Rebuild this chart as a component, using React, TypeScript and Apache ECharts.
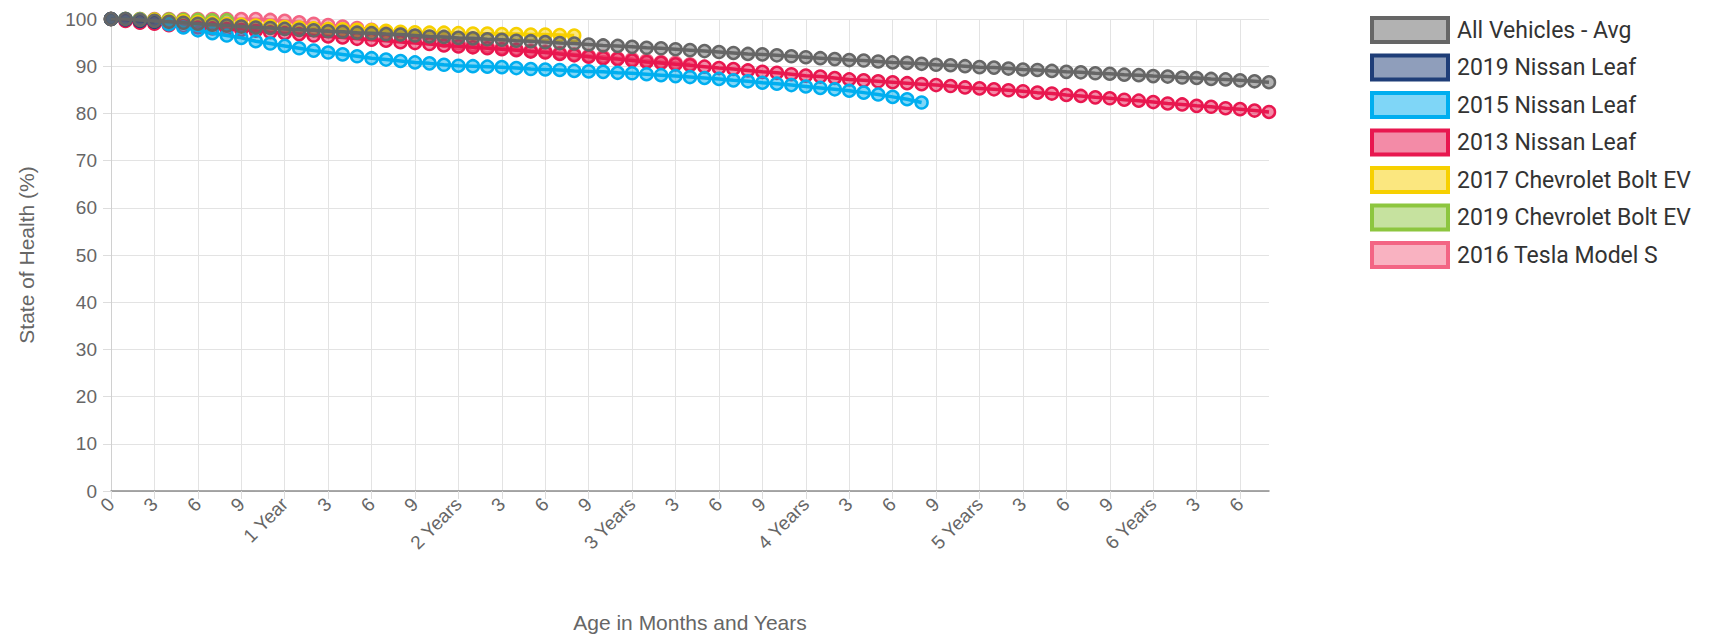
import React, { useEffect, useRef } from "react";
import * as echarts from "echarts";

const months: string[] = [
  "0", "1", "2", "3", "4", "5", "6", "7", "8", "9", "10", "11",
  "1 Year", "1", "2", "3", "4", "5", "6", "7", "8", "9", "10", "11",
  "2 Years", "1", "2", "3", "4", "5", "6", "7", "8", "9", "10", "11",
  "3 Years", "1", "2", "3", "4", "5", "6", "7", "8", "9", "10", "11",
  "4 Years", "1", "2", "3", "4", "5", "6", "7", "8", "9", "10", "11",
  "5 Years", "1", "2", "3", "4", "5", "6", "7", "8", "9", "10", "11",
  "6 Years", "1", "2", "3", "4", "5", "6", "7", "8",
];

const yTicks = [0, 10, 20, 30, 40, 50, 60, 70, 80, 90, 100];

const seriesNames = [
  "All Vehicles - Avg",
  "2019 Nissan Leaf",
  "2015 Nissan Leaf",
  "2013 Nissan Leaf",
  "2017 Chevrolet Bolt EV",
  "2019 Chevrolet Bolt EV",
  "2016 Tesla Model S",
];

const allVehiclesAvg = [
  100.0, 100.0, 99.8, 99.6, 99.4, 99.2, 99.0, 98.8, 98.6, 98.4, 98.2, 98.1,
  97.9, 97.7, 97.6, 97.4, 97.3, 97.1, 97.0, 96.8, 96.7, 96.5, 96.3, 96.2,
  96.0, 95.9, 95.7, 95.6, 95.4, 95.3, 95.1, 94.9, 94.8, 94.6, 94.4, 94.3,
  94.1, 93.9, 93.8, 93.6, 93.4, 93.2, 93.0, 92.8, 92.6, 92.5, 92.3, 92.1,
  91.9, 91.7, 91.5, 91.3, 91.2, 91.0, 90.8, 90.7, 90.5, 90.3, 90.2, 90.0,
  89.8, 89.7, 89.5, 89.3, 89.2, 89.0, 88.8, 88.7, 88.5, 88.4, 88.2, 88.1,
  87.9, 87.8, 87.6, 87.5, 87.3, 87.2, 87.0, 86.8, 86.6,
];

const leaf2019 = [100.0, 99.9, 99.6, 99.4];

const leaf2015 = [
  100.0, 100.0, 99.8, 99.5, 98.9, 98.2, 97.6, 97.0, 96.5, 96.0, 95.3, 94.8,
  94.3, 93.8, 93.3, 92.9, 92.5, 92.1, 91.7, 91.4, 91.1, 90.8, 90.6, 90.3,
  90.1, 90.0, 89.9, 89.8, 89.6, 89.4, 89.3, 89.2, 89.0, 88.9, 88.8, 88.6,
  88.5, 88.3, 88.1, 87.9, 87.7, 87.5, 87.3, 87.0, 86.8, 86.5, 86.3, 86.0,
  85.7, 85.4, 85.1, 84.8, 84.4, 84.0, 83.5, 83.0, 82.3,
];

const leaf2013 = [
  100.0, 99.6, 99.2, 99.0, 98.7, 98.5, 98.2, 98.0, 97.9, 97.7, 97.5, 97.2,
  97.0, 96.8, 96.5, 96.3, 96.1, 95.8, 95.6, 95.4, 95.1, 94.9, 94.7, 94.4,
  94.2, 94.0, 93.8, 93.6, 93.4, 93.1, 92.9, 92.6, 92.3, 92.0, 91.7, 91.5,
  91.2, 90.9, 90.7, 90.4, 90.2, 89.9, 89.6, 89.4, 89.1, 88.8, 88.6, 88.3,
  88.0, 87.8, 87.5, 87.2, 87.0, 86.8, 86.6, 86.4, 86.2, 86.0, 85.8, 85.5,
  85.3, 85.1, 84.9, 84.7, 84.4, 84.2, 83.9, 83.7, 83.4, 83.2, 82.9, 82.7,
  82.4, 82.1, 81.9, 81.6, 81.4, 81.1, 80.9, 80.6, 80.3,
];

const bolt2017 = [
  100.0, 100.0, 99.9, 99.8, 99.6, 99.5, 99.3, 99.1, 98.9, 98.8, 98.6, 98.5,
  98.3, 98.2, 98.0, 97.9, 97.8, 97.7, 97.6, 97.5, 97.3, 97.2, 97.1, 97.1,
  97.0, 96.9, 96.9, 96.8, 96.8, 96.7, 96.7, 96.6, 96.5,
];

const bolt2019 = [100.0, 100.0, 100.0, 99.9, 99.9, 99.8, 99.8, 99.7, 99.7];

const teslaS2016 = [
  100.0, 100.0, 100.0, 100.0, 100.0, 100.0, 100.0, 100.0, 100.0, 100.0, 100.0, 99.8,
  99.6, 99.3, 99.0, 98.7, 98.4, 98.1, 97.7, 97.3, 96.9, 96.4, 95.9, 95.4,
  94.8, 94.5, 94.2, 93.9, 93.6, 93.3, 93.1, 92.8, 92.5, 92.2, 92.0, 91.7,
  91.5, 91.2, 90.9, 90.7, 90.4,
];

const seriesData = [allVehiclesAvg, leaf2019, leaf2015, leaf2013, bolt2017, bolt2019, teslaS2016];

const strokeColors = ["#666666", "#1f3e78", "#00aeef", "#e8174f", "#f7d000", "#8dc63f", "#f36584"];
const fillColors = [
  "rgba(102,102,102,0.5)",
  "rgba(31,62,120,0.5)",
  "rgba(0,174,239,0.5)",
  "rgba(232,23,79,0.5)",
  "rgba(247,208,0,0.5)",
  "rgba(141,198,63,0.5)",
  "rgba(243,101,132,0.5)",
];

export default function App() {
  const ref = useRef<HTMLDivElement>(null);

  useEffect(() => {
    if (!ref.current) return;
    const chart = echarts.init(ref.current, undefined, { renderer: "svg" });
    const axisFont = "'Liberation Sans', Arial, Helvetica, sans-serif";
    chart.setOption({
      animation: false,
      backgroundColor: "#ffffff",
      grid: { left: 111, right: 440, top: 19, bottom: 139.5, containLabel: false },
      legend: {
        orient: "vertical",
        left: 1365,
        top: 11,
        icon: "rect",
        itemWidth: 76,
        itemHeight: 24,
        itemGap: 9.5,
        textStyle: { fontFamily: "Roboto, sans-serif", fontSize: 23, color: "#333333", padding: [0, 0, 0, 4] },
        data: seriesNames.map((n, i) => ({
          name: n,
          itemStyle: { color: fillColors[i], borderColor: strokeColors[i], borderWidth: 4 },
        })),
      },
      xAxis: {
        type: "category",
        data: months,
        boundaryGap: false,
        name: "Age in Months and Years",
        nameLocation: "middle",
        nameGap: 121,
        nameTextStyle: { fontFamily: axisFont, fontSize: 21, color: "#666666" },
        axisLine: { show: true, lineStyle: { color: "#8c8c8c", width: 1.5 } },
        axisTick: { show: true, interval: 2, length: 8, lineStyle: { color: "#dddddd" } },
        axisLabel: {
          interval: 2,
          rotate: 45,
          margin: 10,
          fontFamily: axisFont,
          fontSize: 19,
          color: "#666666",
        },
        splitLine: { show: true, interval: 2, lineStyle: { color: "#e3e3e3", width: 1 } },
      },
      yAxis: {
        type: "value",
        min: 0,
        max: 100,
        interval: 10,
        name: "State of Health (%)",
        nameLocation: "middle",
        nameRotate: 90,
        nameGap: 74,
        nameTextStyle: { fontFamily: axisFont, fontSize: 21, color: "#666666" },
        axisLine: { show: true, lineStyle: { color: "#d0d0d0", width: 1 } },
        axisTick: { show: true, length: 8, lineStyle: { color: "#dddddd" } },
        axisLabel: {
          margin: 14,
          fontFamily: axisFont,
          fontSize: 19,
          color: "#666666",
          formatter: (v: number) => (yTicks.includes(v) ? String(v) : ""),
        },
        splitLine: { show: true, lineStyle: { color: "#e3e3e3", width: 1 } },
      },
      series: seriesNames.map((n, i) => ({
        name: n,
        type: "line",
        data: seriesData[i],
        z: 20 - i,
        symbol: "circle",
        symbolSize: 12,
        showSymbol: true,
        showAllSymbol: true,
        lineStyle: { color: strokeColors[i], width: 3.5 },
        itemStyle: { color: fillColors[i], borderColor: strokeColors[i], borderWidth: 2.5 },
        emphasis: { disabled: true },
      })),
    });
    return () => chart.dispose();
  }, []);

  return (
    <div
      ref={ref}
      style={{ position: "absolute", left: 0, top: 0, width: 1709, height: 638 }}
    />
  );
}
